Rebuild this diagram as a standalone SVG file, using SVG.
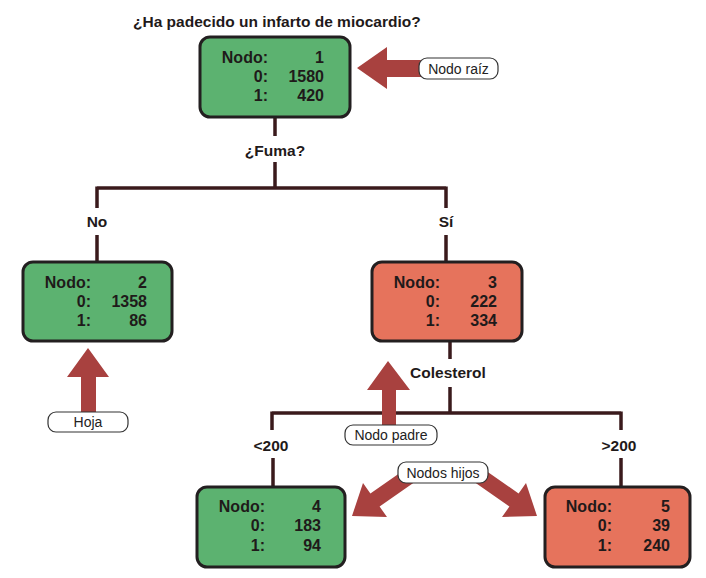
<svg xmlns="http://www.w3.org/2000/svg" width="706" height="578" viewBox="0 0 706 578">
<style>
.box{stroke:#231f20;stroke-width:3}
.g{fill:#5cb270}
.r{fill:#e6735c}
.t{font-family:"Liberation Sans",Arial,sans-serif;font-weight:bold;font-size:15.5px;fill:#1f1a1a}
.n{font-size:16px}
.e{text-anchor:end}
.m{text-anchor:middle}
.c{stroke:#3a1a1c;stroke-width:3.5;fill:none}
.arw{fill:#a8413f}
.pill{fill:#fff;stroke:#333;stroke-width:1.2}
.pt{font-family:"Liberation Sans",Arial,sans-serif;font-size:14px;fill:#222;text-anchor:middle}
</style>
<rect width="706" height="578" fill="#fff"/>
<text class="t" x="133" y="27">¿Ha padecido un infarto de miocardio?</text>
<g id="connectors">
<path class="c" d="M275 117V136M275 162V188M97 188H446M97 186.5V208M446 186.5V208M97 235V262M446 235V262"/>
<path class="c" d="M450 342V359M450 387V413M272 413H621M272 411.5V430M621 411.5V430M273 458V487M621 458V487"/>
<text class="t m" x="275" y="156">¿Fuma?</text>
<text class="t m" x="97" y="227">No</text>
<text class="t m" x="446" y="227">Sí</text>
<text class="t m" x="448" y="378">Colesterol</text>
<text class="t m" x="271" y="451">&lt;200</text>
<text class="t m" x="619" y="451">&gt;200</text>
</g>
<g id="node1">
<rect class="box g" x="200" y="37" width="150" height="80" rx="10"/>
<text class="t n e" x="268" y="63">Nodo:</text><text class="t n e" x="324" y="63">1</text>
<text class="t n e" x="268" y="82">0:</text><text class="t n e" x="324" y="82">1580</text>
<text class="t n e" x="268" y="101">1:</text><text class="t n e" x="324" y="101">420</text>
</g>
<g id="node2">
<rect class="box g" x="23" y="262" width="149" height="79" rx="10"/>
<text class="t n e" x="91" y="288">Nodo:</text><text class="t n e" x="147" y="288">2</text>
<text class="t n e" x="91" y="307">0:</text><text class="t n e" x="147" y="307">1358</text>
<text class="t n e" x="91" y="326">1:</text><text class="t n e" x="147" y="326">86</text>
</g>
<g id="node3">
<rect class="box r" x="372" y="262" width="150" height="79" rx="10"/>
<text class="t n e" x="440" y="288">Nodo:</text><text class="t n e" x="497" y="288">3</text>
<text class="t n e" x="440" y="307">0:</text><text class="t n e" x="497" y="307">222</text>
<text class="t n e" x="440" y="326">1:</text><text class="t n e" x="497" y="326">334</text>
</g>
<g id="node4">
<rect class="box g" x="197" y="487" width="148" height="80" rx="10"/>
<text class="t n e" x="265" y="512">Nodo:</text><text class="t n e" x="321" y="512">4</text>
<text class="t n e" x="265" y="531">0:</text><text class="t n e" x="321" y="531">183</text>
<text class="t n e" x="265" y="551">1:</text><text class="t n e" x="321" y="551">94</text>
</g>
<g id="node5">
<rect class="box r" x="545" y="487" width="145" height="80" rx="10"/>
<text class="t n e" x="612" y="512">Nodo:</text><text class="t n e" x="670" y="512">5</text>
<text class="t n e" x="612" y="531">0:</text><text class="t n e" x="670" y="531">39</text>
<text class="t n e" x="612" y="551">1:</text><text class="t n e" x="670" y="551">240</text>
</g>
<g id="annotation-raiz">
<polygon class="arw" points="357,68 387,47 387,60 424,60 424,77 387,77 387,89"/>
<rect class="pill" x="419" y="58" width="79" height="21" rx="8"/>
<text class="pt" x="458.5" y="73.5">Nodo raíz</text>
</g>
<g id="annotation-hoja">
<polygon class="arw" points="88,348 109,377 96,377 96,414 81,414 81,377 67,377"/>
<rect class="pill" x="48" y="412" width="80" height="20" rx="8"/>
<text class="pt" x="88" y="427">Hoja</text>
</g>
<g id="annotation-padre">
<polygon class="arw" points="388,361 410,390 396,390 396,427 382,427 382,390 367,390"/>
<rect class="pill" x="345" y="425" width="92" height="20" rx="8"/>
<text class="pt" x="391" y="440">Nodo padre</text>
</g>
<g id="annotation-hijos">
<polygon class="arw" points="352,516 363,483 370.4,493.4 413.4,463.4 422.6,476.6 379.6,506.6 387,517"/>
<polygon class="arw" points="537,516 526,483 518.6,493.4 475.6,463.4 466.4,476.6 509.4,506.6 502,517"/>
<rect class="pill" x="398" y="462" width="90" height="21" rx="8"/>
<text class="pt" x="443" y="477.5">Nodos hijos</text>
</g>
</svg>
